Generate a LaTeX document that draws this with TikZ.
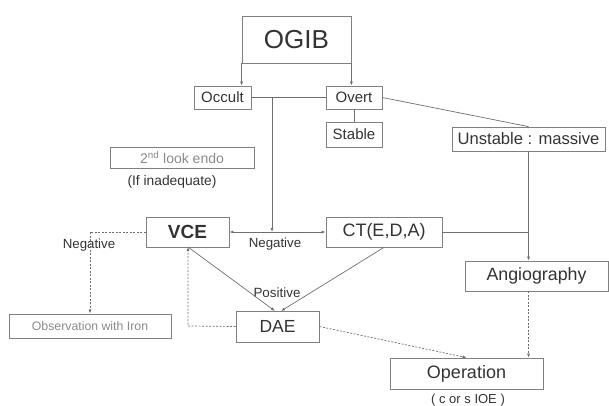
\documentclass[tikz,border=0pt]{standalone}
\usepackage{fontspec}
\setmainfont{Liberation Sans}
\usetikzlibrary{arrows.meta,calc}
\definecolor{boxgray}{HTML}{808080}
\definecolor{linegray}{HTML}{6E6E6E}
\definecolor{textdark}{HTML}{333333}
\definecolor{textlight}{HTML}{8A8A8A}
\begin{document}
\begin{tikzpicture}[x=1pt,y=-1pt,
  box/.style={draw=boxgray, line width=0.8pt, inner sep=0pt, text=textdark},
  lbl/.style={inner sep=0pt, text=textdark},
  conn/.style={draw=linegray, line width=0.7pt},
  dconn/.style={draw=linegray, line width=0.7pt, dash pattern=on 2pt off 1.5pt},
  tip/.style={-{Latex[length=4pt,width=3pt]}},
  fs/.style={font=\fontsize{#1}{#1}\selectfont}
]
\useasboundingbox (0,0) rectangle (609,406);
% nodes
\node[box,fs=26,minimum width=109pt,minimum height=47pt] (ogib) at (296.5,39.5) {OGIB};
\node[box,fs=15,minimum width=57pt,minimum height=23pt] (occult) at (222.5,97.5) {Occult};
\node[box,fs=15,minimum width=56pt,minimum height=23pt] (overt) at (354,97.5) {Overt};
\node[box,fs=15,minimum width=56pt,minimum height=25pt] (stable) at (354,134.5) {Stable};
\node[box,fs=16.6,minimum width=153pt,minimum height=24pt] (unstable) at (528.5,139) {Unstable : massive};
\node[box,fs=14,text=textlight,minimum width=144pt,minimum height=21pt] (second) at (182,157.5) {2\textsuperscript{nd} look endo};
\node[lbl,fs=13.8] (inad) at (172,182) {(If inadequate)};
\node[box,fs=19,font=\fontsize{19}{19}\selectfont\bfseries,minimum width=83pt,minimum height=30pt] (vce) at (187.5,232) {VCE};
\node[box,fs=18,minimum width=116pt,minimum height=30pt] (ct) at (384,232) {CT(E,D,A)};
\node[box,fs=17.8,minimum width=143pt,minimum height=30pt] (angio) at (536.5,276) {Angiography};
\node[box,fs=12.3,text=textlight,minimum width=162pt,minimum height=24pt] (obs) at (90,326) {Observation with Iron};
\node[box,fs=17.5,minimum width=83pt,minimum height=31pt] (dae) at (277.5,326.5) {DAE};
\node[box,fs=18,minimum width=153pt,minimum height=31pt] (oper) at (466.5,373.5) {Operation};
\node[lbl,fs=13] (ioe) at (468,400) {( c or s IOE )};
\node[lbl,fs=13.3] (negl) at (89,245) {Negative};
\node[lbl,fs=13.3] (negm) at (275,244) {Negative};
\node[lbl,fs=13.4] (pos) at (277,293) {Positive};
% helper coordinates
\coordinate (j1) at (272,97.5);
\coordinate (j2) at (272,232);
\coordinate (ux) at (528.5,151);
\coordinate (dl) at (275,311);
\coordinate (dr) at (281,311);
\coordinate (ol) at (90,232);
\coordinate (vb) at (188,247);
\coordinate (db) at (188,326);
% connectors
\draw[conn,tip] (ogib.south west) -- (ogib.south west |- occult.north);
\draw[conn,tip] (ogib.south east) -- (ogib.south east |- overt.north);
\draw[conn] (occult.east) -- (overt.west);
\draw[conn,tip] (j1) -- (j2);
\draw[conn] (overt.south) -- (stable.north);
\draw[conn] (overt.east) -- (unstable.north);
\draw[conn,tip] (unstable.south) -- (unstable.south |- angio.north);
\draw[conn] (ct.east) -- (unstable.south |- ct.east);
\draw[conn,{Latex[length=4pt,width=3pt]}-{Latex[length=4pt,width=3pt]}] (vce.east) -- (ct.west);
\draw[conn,tip] (vb) -- (dl);
\draw[conn,tip] (ct.south) -- (dr);
\draw[dconn,tip] (vce.west) -- (ol) -- (obs.north);
\draw[dconn,tip] (dae.west) -- (db) -- (vb);
\draw[dconn,tip] (dae.east) -- (oper.north);
\draw[dconn,tip] (unstable.south |- angio.south) -- (unstable.south |- oper.north);
\end{tikzpicture}
\end{document}
